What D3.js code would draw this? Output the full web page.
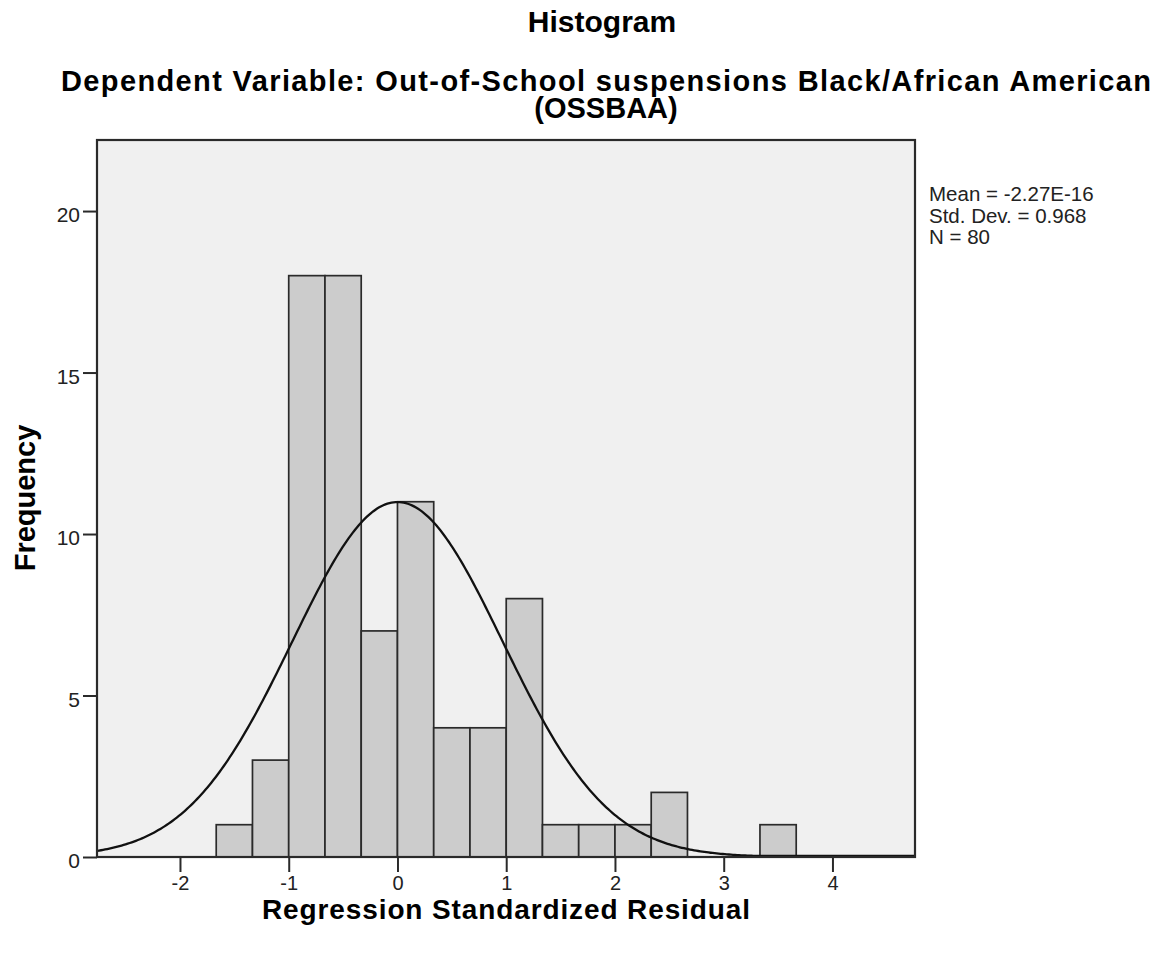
<!DOCTYPE html>
<html>
<head>
<meta charset="utf-8">
<script src="https://cdn.jsdelivr.net/npm/d3@7"></script>
<style>
  html, body { margin: 0; padding: 0; background: #ffffff; }
  svg { display: block; font-family: "Liberation Sans", Arial, sans-serif; }
</style>
</head>
<body>
<svg id="chart" width="1162" height="953"></svg>
<script>
// Histogram bins: lower edge of each bin (bin width 1/3) and its count
const binWidth = 1 / 3;
const binLower = [-5/3, -4/3, -1, -2/3, -1/3, 0, 1/3, 2/3, 1, 4/3, 5/3, 2, 7/3, 10/3];
const frequency = [1, 3, 18, 18, 7, 11, 4, 4, 8, 1, 1, 1, 2, 1];

// Summary statistics of the residuals
const statMean = -2.27e-16;
const statSD = 0.968;
const statN = 80;
const statLines = ["Mean = -2.27E-16", "Std. Dev. = 0.968", "N = 80"];

// Axis ticks and extents
const xTicks = [-2, -1, 0, 1, 2, 3, 4];
const yTicks = [0, 5, 10, 15, 20];
const xDomain = [-2.763, 4.759];
const yDomain = [0, 22.2];

const svg = d3.select("#chart");
const plot = { left: 97, right: 915, top: 140, bottom: 857 };

const x = d3.scaleLinear().domain(xDomain).range([plot.left, plot.right]);
const y = d3.scaleLinear().domain(yDomain).range([plot.bottom, plot.top]);

// Titles
svg.append("text").attr("x", 602).attr("y", 32).attr("text-anchor", "middle")
  .attr("font-size", 30).attr("font-weight", "bold").attr("fill", "#000")
  .text("Histogram");
svg.append("text").attr("x", 606).attr("y", 91).attr("text-anchor", "middle")
  .attr("font-size", 29).attr("font-weight", "bold").attr("fill", "#000")
  .attr("textLength", 1090).attr("lengthAdjust", "spacing")
  .text("Dependent Variable: Out-of-School suspensions Black/African American");
svg.append("text").attr("x", 606).attr("y", 118).attr("text-anchor", "middle")
  .attr("font-size", 29).attr("font-weight", "bold").attr("fill", "#000")
  .text("(OSSBAA)");

// Plot background
svg.append("rect")
  .attr("x", plot.left).attr("y", plot.top)
  .attr("width", plot.right - plot.left).attr("height", plot.bottom - plot.top)
  .attr("fill", "#f0f0f0");

// Bars
svg.append("g").selectAll("rect")
  .data(binLower.map((lo, i) => ({ lo, hi: lo + binWidth, n: frequency[i] })))
  .join("rect")
  .attr("x", d => x(d.lo))
  .attr("y", d => y(d.n))
  .attr("width", d => x(d.hi) - x(d.lo))
  .attr("height", d => y(0) - y(d.n))
  .attr("fill", "#cccccc")
  .attr("stroke", "#2a2a2a")
  .attr("stroke-width", 1.7);

// Fitted normal curve scaled to counts
const scaleFactor = statN * binWidth;
const normalPdf = v => Math.exp(-0.5 * ((v - statMean) / statSD) ** 2) / (statSD * Math.sqrt(2 * Math.PI));
const curvePts = d3.range(0, 401).map(i => {
  const v = xDomain[0] + (xDomain[1] - xDomain[0]) * i / 400;
  return [v, scaleFactor * normalPdf(v)];
});
svg.append("path")
  .datum(curvePts)
  .attr("fill", "none")
  .attr("stroke", "#111")
  .attr("stroke-width", 2.3)
  .attr("d", d3.line().x(d => x(d[0])).y(d => Math.min(y(d[1]), plot.bottom - 1)));

// Frame
svg.append("rect")
  .attr("x", plot.left).attr("y", plot.top)
  .attr("width", plot.right - plot.left).attr("height", plot.bottom - plot.top)
  .attr("fill", "none").attr("stroke", "#2a2a2a").attr("stroke-width", 2.2);

// Y axis
const yAxis = svg.append("g")
  .attr("transform", `translate(${plot.left},0)`)
  .call(d3.axisLeft(y).tickValues(yTicks).tickSize(14).tickPadding(3).tickFormat(d => String(d)));
yAxis.select(".domain").remove();
yAxis.selectAll(".tick line").attr("stroke", "#2a2a2a").attr("stroke-width", 2);
yAxis.selectAll(".tick text")
  .attr("font-size", 21).attr("font-family", "Liberation Sans, Arial, sans-serif")
  .attr("fill", "#222").attr("dy", "0.52em");

// X axis
const xAxis = svg.append("g")
  .attr("transform", `translate(0,${plot.bottom})`)
  .call(d3.axisBottom(x).tickValues(xTicks).tickSize(15).tickPadding(4).tickFormat(d => String(d)));
xAxis.select(".domain").remove();
xAxis.selectAll(".tick line").attr("stroke", "#2a2a2a").attr("stroke-width", 2);
xAxis.selectAll(".tick text")
  .attr("font-size", 20).attr("font-family", "Liberation Sans, Arial, sans-serif")
  .attr("fill", "#222");

// Axis titles
svg.append("text").attr("x", 506).attr("y", 919).attr("text-anchor", "middle")
  .attr("font-size", 28).attr("font-weight", "bold").attr("fill", "#000")
  .attr("textLength", 488).attr("lengthAdjust", "spacing")
  .text("Regression Standardized Residual");
svg.append("text")
  .attr("transform", "translate(35,498) rotate(-90)")
  .attr("text-anchor", "middle")
  .attr("font-size", 29).attr("font-weight", "bold").attr("fill", "#000")
  .text("Frequency");

// Statistics legend
svg.append("g").selectAll("text")
  .data(statLines)
  .join("text")
  .attr("x", 929)
  .attr("y", (d, i) => 201 + i * 21.7)
  .attr("font-size", 20.5)
  .attr("fill", "#222")
  .text(d => d);
</script>
</body>
</html>
